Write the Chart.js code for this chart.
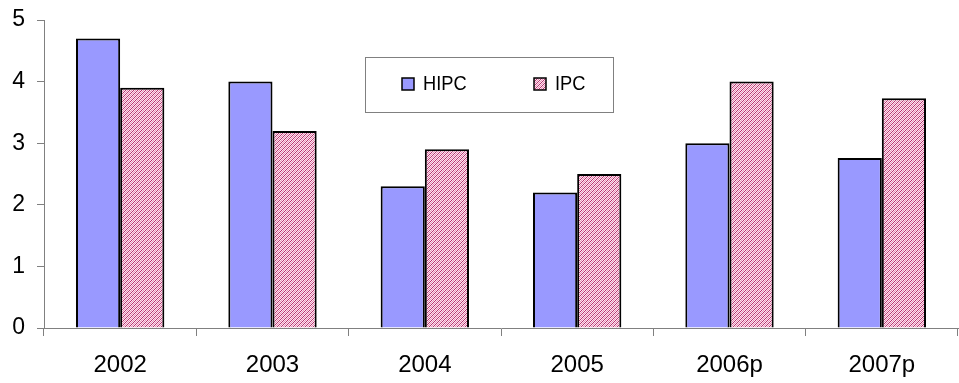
<!DOCTYPE html>
<html>
<head>
<meta charset="utf-8">
<script src="https://cdn.jsdelivr.net/npm/chart.js@4/dist/chart.umd.min.js"></script>
<style>
  html, body { margin: 0; padding: 0; background: #fff; }
  #wrap { width: 959px; height: 383px; position: relative; }
</style>
</head>
<body>
<div id="wrap"><canvas id="c" width="959" height="383"></canvas></div>
<script>
const years = ['2002', '2003', '2004', '2005', '2006p', '2007p'];
const hipc = [4.7, 4.0, 2.3, 2.2, 3.0, 2.76];
const ipc = [3.9, 3.2, 2.9, 2.5, 4.0, 3.73];
const yTicks = [0, 1, 2, 3, 4, 5];

// Fine diagonal hatch used for the IPC bars
function hatch() {
  const p = document.createElement('canvas');
  p.width = 4; p.height = 4;
  const g = p.getContext('2d');
  g.fillStyle = '#fbe6f0';
  g.fillRect(0, 0, 4, 4);
  g.fillStyle = '#b8336f';
  for (let i = 0; i < 4; i++) g.fillRect(i, 3 - i, 1, 1);
  g.fillStyle = '#e78fb6';
  for (let i = 0; i < 4; i++) g.fillRect(i, (5 - i) % 4, 1, 1);
  return g.createPattern(p, 'repeat');
}

const font = "'Liberation Sans', Arial, sans-serif";

// Boxed legend drawn inside the plot area
const boxLegend = {
  id: 'boxLegend',
  afterDraw(chart) {
    const ctx = chart.ctx;
    ctx.save();
    ctx.fillStyle = '#fff';
    ctx.fillRect(365.5, 57.5, 248, 55);
    ctx.strokeStyle = '#808080';
    ctx.lineWidth = 1;
    ctx.strokeRect(365.5, 57.5, 248, 55);
    const items = [
      { x: 402, tx: 423 },
      { x: 534, tx: 555 }
    ];
    chart.data.datasets.forEach((ds, i) => {
      const it = items[i];
      ctx.fillStyle = ds.backgroundColor;
      ctx.fillRect(it.x, 78, 12, 12);
      ctx.strokeStyle = '#000';
      ctx.lineWidth = 1.5;
      ctx.strokeRect(it.x, 78, 12, 12);
      ctx.save();
      ctx.translate(it.tx, 84);
      ctx.scale(0.87, 1);
      ctx.font = '21px ' + font;
      ctx.textBaseline = 'middle';
      ctx.fillStyle = '#000';
      ctx.fillText(ds.label, 0, 0);
      ctx.restore();
    });
    ctx.restore();
  }
};

new Chart(document.getElementById('c'), {
  type: 'bar',
  data: {
    labels: years,
    datasets: [
      { label: 'HIPC', data: hipc, backgroundColor: '#9999ff', borderColor: '#000', borderWidth: 2 },
      { label: 'IPC', data: ipc, backgroundColor: hatch(), borderColor: '#000', borderWidth: 2 }
    ]
  },
  options: {
    responsive: false,
    animation: false,
    layout: { padding: { top: 0, right: 1, left: 0, bottom: 0 } },
    datasets: { bar: { categoryPercentage: 0.58, barPercentage: 1.0 } },
    plugins: { legend: { display: false }, tooltip: { enabled: false } },
    scales: {
      x: {
        grid: { display: true, offset: true, drawOnChartArea: false, drawTicks: true, tickLength: 8, color: '#808080' },
        border: { color: '#808080', width: 1 },
        ticks: { color: '#000', font: { family: font, size: 24 }, padding: 15 },
        afterFit(s) { s.height = 55; }
      },
      y: {
        min: 0, max: 5,
        afterBuildTicks(s) { s.ticks = yTicks.map(v => ({ value: v })); },
        grid: { display: true, drawOnChartArea: false, drawTicks: true, tickLength: 7, color: '#808080' },
        border: { color: '#808080', width: 1 },
        ticks: { color: '#000', font: { family: font, size: 23 }, padding: 12 },
        afterFit(s) { s.width = 44; s.paddingTop = 20; }
      }
    }
  },
  plugins: [boxLegend]
});
</script>
</body>
</html>
